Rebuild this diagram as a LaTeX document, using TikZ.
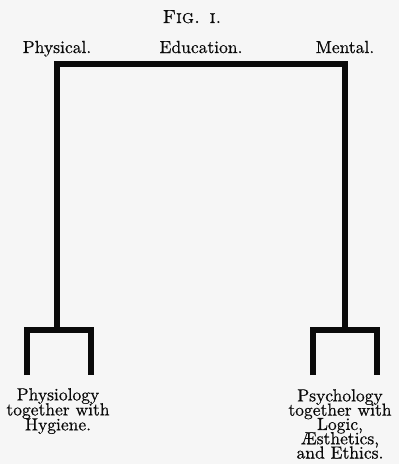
\documentclass[tikz,border=0pt]{standalone}
\usepackage{fontspec}
\setmainfont{lmroman10-regular.otf}[SmallCapsFont=lmromancaps10-regular.otf, FakeBold=0.6]
\usepackage{tikz}
\usetikzlibrary{positioning}
\definecolor{ink}{RGB}{10,10,10}
\definecolor{paper}{RGB}{246,246,246}
\newcommand{\lblfont}{\fontsize{17.5}{15}\selectfont\setlength{\lineskiplimit}{-20pt}}
\newcommand{\tightfont}{\fontsize{17.5}{14.3}\selectfont\setlength{\lineskiplimit}{-20pt}}

\begin{document}
\begin{tikzpicture}[x=1pt, y=-1pt]
  \tikzset{
    bar/.style={draw=ink, line width=5.5pt, line join=miter},
    lbl/.style={text=ink, inner sep=0pt, align=center, font=\lblfont}}

  \fill[paper] (0,0) rectangle (399,464);
  \useasboundingbox (0,0) rectangle (399,464);

  % --- heading and the three words over the bar
  \node[lbl, anchor=base, font=\fontsize{19}{19}\selectfont] (fig) at (192,23)
    {\textsc{Fig. i.}};
  \node[lbl, anchor=base] (phys) at (57,53)  {Physical.};
  \node[lbl, anchor=base] (edu)  at (201,53) {Education.};
  \node[lbl, anchor=base] (ment) at (345,53) {Mental.};

  % --- the two branches at the foot
  \node[lbl, anchor=north] (physio) at (58,388)
    {Physiology\\together with\\Hygiene.};
  \node[lbl, anchor=north, font=\tightfont] (psych) at (340,389)
    {Psychology\\together with\\Logic,\\\AE sthetics,\\and Ethics.};

  \coordinate (tl) at (57,64);
  \coordinate (tr) at (345,64);
  \coordinate (bl) at (57,330);
  \coordinate (br) at (345,330);

  % --- the main bracket
  \draw[bar] (bl) -- (tl) -- (tr) -- (br);

  % --- the two small brackets
  \draw[bar] (27,375) -- (27,330) -- (91,330) -- (91,375);
  \draw[bar] (313,375) -- (313,330) -- (377,330) -- (377,375);
\end{tikzpicture}
\end{document}
